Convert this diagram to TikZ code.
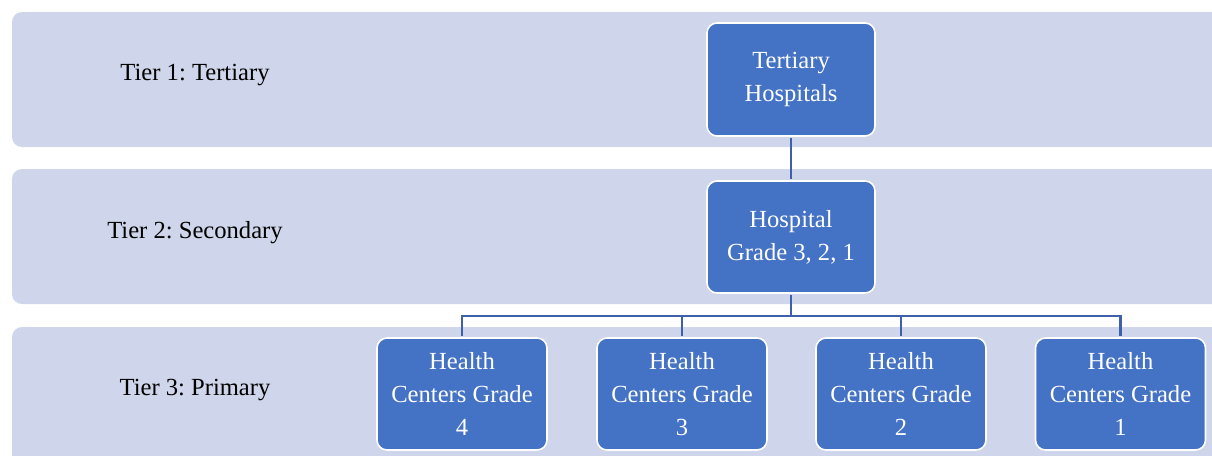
\documentclass[tikz,border=0pt]{standalone}
\usepackage{fontspec}
\setmainfont{Liberation Serif}
\definecolor{bandfill}{HTML}{CFD5EA}
\definecolor{boxfill}{HTML}{4472C4}
\definecolor{connclr}{RGB}{62,96,170}
\tikzset{
  band/.style={fill=bandfill, rounded corners=10pt},
  tierbox/.style={rectangle, rounded corners=10pt, fill=boxfill, draw=white, line width=1.6pt,
    text=white, align=center, minimum width=170pt, minimum height=112pt, inner sep=0pt,
    font=\fontsize{24.6}{33}\selectfont},
  tierlabel/.style={text=black, font=\fontsize{24.6}{33}\selectfont, inner sep=0pt},
  conn/.style={draw=connclr, line width=2.2pt}
}
\frenchspacing
\begin{document}
\begin{tikzpicture}[x=1pt,y=-1pt]
\useasboundingbox (0,0) rectangle (1212,455);
\clip (0,0) rectangle (1212,455);
% bands
\fill[band] (12,12) rectangle (1240,147);
\fill[band] (12,169) rectangle (1240,304);
\fill[band] (12,327) rectangle (1240,490);
% tier labels
\node[tierlabel] (l1) at (195,75) {Tier 1: Tertiary};
\node[tierlabel] (l2) at (195,233) {Tier 2: Secondary};
\node[tierlabel] (l3) at (195,390) {Tier 3: Primary};
\coordinate (bus) at (791,316);
% boxes
\node[tierbox, minimum width=168pt, minimum height=113pt] (th) at (791,79.5) {Tertiary\\Hospitals};
\node[tierbox, minimum width=168pt] (hg) at (791,237) {Hospital\\Grade 3, 2, 1};
\node[tierbox] (hc4) at (462,394) {Health\\Centers Grade\\4};
\node[tierbox] (hc3) at (682,394) {Health\\Centers Grade\\3};
\node[tierbox] (hc2) at (901,394) {Health\\Centers Grade\\2};
\node[tierbox] (hc1) at (1120.5,394) {Health\\Centers Grade\\1};
% connectors
\draw[conn, shorten <=0.8pt, shorten >=0.8pt] (th.south) -- (hg.north);
\draw[conn, shorten <=0.8pt] (hg.south) -- (bus);
\draw[conn, shorten <=0.8pt, shorten >=0.8pt] (hc4.north) |- (bus) -| (hc1.north);
\draw[conn, shorten >=0.8pt] (bus -| hc3.north) -- (hc3.north);
\draw[conn, shorten >=0.8pt] (bus -| hc2.north) -- (hc2.north);
\end{tikzpicture}
\end{document}
